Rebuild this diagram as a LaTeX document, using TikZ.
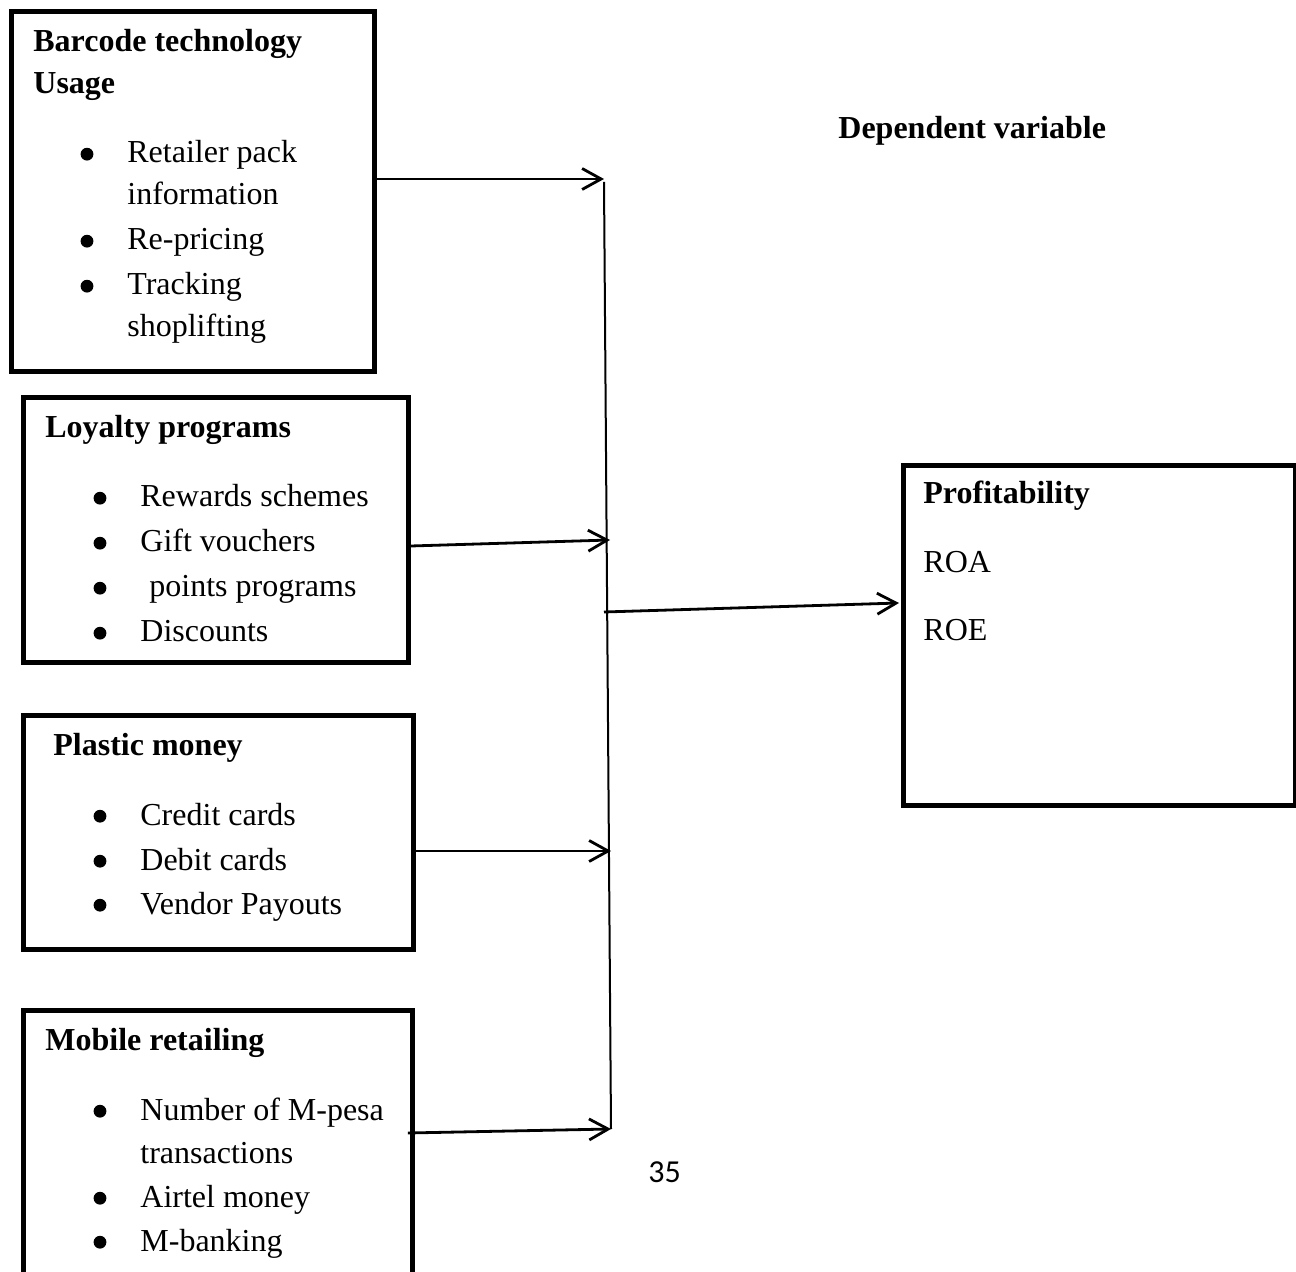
\documentclass[tikz,border=0pt]{standalone}
\usepackage{fontspec}
\setmainfont{Liberation Serif}
\newfontfamily\pagefont{Carlito}
\usetikzlibrary{arrows.meta,calc}
\begin{document}
\begin{tikzpicture}[x=0.5pt,y=-0.5pt,
 box/.style={draw, line width=2.4pt, anchor=north west, inner sep=0pt},
 txt/.style={anchor=base west, inner sep=0pt, font=\fontsize{16}{22}\selectfont},
 head/.style={anchor=base west, inner sep=0pt, font=\fontsize{16}{22}\selectfont\bfseries},
 bul/.style={circle, fill, inner sep=0pt, minimum size=6.4pt, yshift=4.4pt},
 arr/.style={line width=1.4pt, -{Straight Barb[length=9.5pt,width=10.5pt,line width=1.4pt]}},
 bus/.style={line width=1pt},
]
\clip (0,0) rectangle (1296,1272);
% boxes
\node[box, minimum width=181.5pt, minimum height=180pt] (b1) at (9,9) {};
\node[box, minimum width=192.5pt, minimum height=132.5pt] (b2) at (21,395) {};
\node[box, minimum width=195pt, minimum height=117pt] (b3) at (21,713) {};
\node[box, minimum width=194.5pt, minimum height=150pt] (b4) at (21,1008) {};
\node[box, minimum width=196pt, minimum height=170pt] (p) at (901,463) {};
% box 1 text
\node[head] (h1a) at (33,52) {Barcode technology};
\node[head] (h1b) at (33,94) {Usage};
\node[bul] (u11) at (87,163) {};
\node[txt] (t11) at (127,163) {Retailer pack};
\node[txt] (t12) at (127,205) {information};
\node[bul] (u12) at (87,250) {};
\node[txt] (t13) at (127,250) {Re-pricing};
\node[bul] (u13) at (87,295) {};
\node[txt] (t14) at (127,295) {Tracking};
\node[txt] (t15) at (127,337) {shoplifting};
% box 2 text
\node[head] (h2) at (45,438) {Loyalty programs};
\node[bul] (u21) at (100,507) {};
\node[txt] (t21) at (140,507) {Rewards schemes};
\node[bul] (u22) at (100,552) {};
\node[txt] (t22) at (140,552) {Gift vouchers};
\node[bul] (u23) at (100,597) {};
\node[txt] (t23) at (149,597) {points programs};
\node[bul] (u24) at (100,642) {};
\node[txt] (t24) at (140,642) {Discounts};
% box 3 text
\node[head] (h3) at (53,755) {Plastic money};
\node[bul] (u31) at (100,825) {};
\node[txt] (t31) at (140,825) {Credit cards};
\node[bul] (u32) at (100,870) {};
\node[txt] (t32) at (140,870) {Debit cards};
\node[bul] (u33) at (100,914) {};
\node[txt] (t33) at (140,914) {Vendor Payouts};
% box 4 text
\node[head] (h4) at (45,1050) {Mobile retailing};
\node[bul] (u41) at (100,1120) {};
\node[txt] (t41) at (140,1120) {Number of M-pesa};
\node[txt] (t42) at (140,1163) {transactions};
\node[bul] (u42) at (100,1207) {};
\node[txt] (t43) at (140,1207) {Airtel money};
\node[bul] (u43) at (100,1251) {};
\node[txt] (t44) at (140,1251) {M-banking};
% right side
\node[head] (dv) at (838,139) {Dependent variable};
\node[head] (pt) at (923,504) {Profitability};
\node[txt] (roa) at (923,573) {ROA};
\node[txt] (roe) at (923,641) {ROE};
\node[anchor=base west, inner sep=0pt, font=\pagefont\fontsize{16}{18}\selectfont] (pg) at (648,1182) {35};
% bus and connectors
\coordinate (bt) at (604,182);
\coordinate (bb) at (611,1129);
\coordinate (a1) at (604,179);
\coordinate (a2) at (610,540);
\coordinate (a3) at (611,851);
\coordinate (s5) at (604,612);
\draw[bus] (bt) -- (bb);
\draw[arr] ($(b1.north east)+(0,170)$) -- (a1);
\draw[arr] ($(b2.north east)+(0,151)$) -- (a2);
\draw[arr] ($(b3.north east)+(0,138)$) -- (a3);
\draw[arr] ($(b4.north east)+(-7,125)$) -- (bb);
\draw[arr] (s5) -- ($(p.north west)+(-2,140)$);
\end{tikzpicture}
\end{document}
